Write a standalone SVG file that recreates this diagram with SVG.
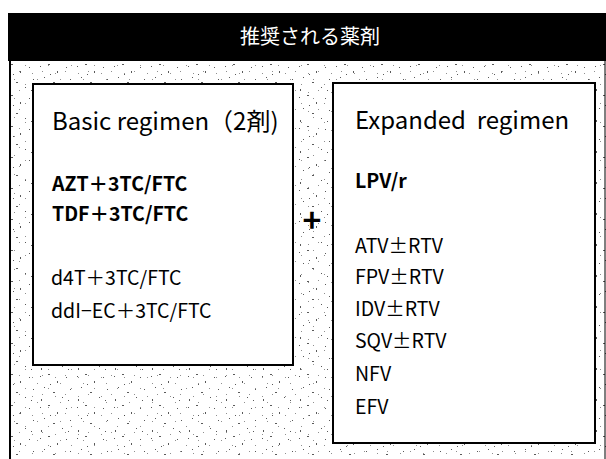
<svg xmlns="http://www.w3.org/2000/svg" width="606" height="459" viewBox="0 0 606 459">
<style>
text{font-family:"Noto Sans CJK JP","Noto Sans",sans-serif;fill:#000}
.h{font-size:24px;white-space:pre}
.r{font-size:19.5px}
.b{font-size:19.5px;font-weight:bold}
.t{font-size:20px;fill:#fff}
.box{fill:#fff;stroke:#000;stroke-width:2}
</style>
<defs>
<pattern id="sp1" width="37" height="31" patternUnits="userSpaceOnUse">
<g fill="#000">
<rect x="3" y="4" width="1" height="1"/><rect x="11" y="2" width="2" height="1"/><rect x="20" y="9" width="1" height="2"/>
<rect x="29" y="5" width="1" height="1"/><rect x="7" y="15" width="1" height="1"/><rect x="16" y="20" width="2" height="1"/>
<rect x="33" y="17" width="1" height="1"/><rect x="25" y="25" width="1" height="1"/><rect x="4" y="27" width="1" height="2"/>
<rect x="13" y="12" width="1" height="1"/><rect x="31" y="28" width="1" height="1"/>
</g>
</pattern>
<pattern id="sp2" width="23" height="19" patternUnits="userSpaceOnUse">
<g fill="#333">
<rect x="2" y="8" width="1" height="1"/><rect x="14" y="3" width="1" height="1"/><rect x="19" y="14" width="1" height="1"/><rect x="9" y="16" width="1" height="1"/>
</g>
</pattern>
</defs>
<g id="header">
<rect x="8" y="13" width="598" height="48" fill="#000"/>
<text class="t" x="310" y="44" text-anchor="middle">推奨される薬剤</text>
</g>
<g id="panel">
<rect x="9" y="61" width="597" height="398" fill="#fff"/>
<rect x="9" y="61" width="597" height="398" fill="url(#sp1)" opacity="0.65"/>
<rect x="9" y="61" width="597" height="398" fill="url(#sp2)" opacity="0.55"/>
<line x1="10" y1="61" x2="10" y2="459" stroke="#000" stroke-width="2"/>
<line x1="605" y1="61" x2="605" y2="459" stroke="#000" stroke-width="1"/>
</g>
<g id="basic">
<rect class="box" x="33" y="84" width="260" height="281"/>
<text class="h" x="52" y="130">Basic regimen（2剤)</text>
<text class="b" x="52" y="191">AZT＋3TC/FTC</text>
<text class="b" x="52" y="221">TDF＋3TC/FTC</text>
<text class="r" x="51" y="285">d4T＋3TC/FTC</text>
<text class="r" x="51" y="318">ddI−EC＋3TC/FTC</text>
</g>
<g id="connectors">
<text x="312" y="232" text-anchor="middle" style="font-size:32px;font-weight:bold">+</text>
</g>
<g id="expanded">
<rect class="box" x="333" y="83" width="262" height="360"/>
<text class="h" x="355" y="129">Expanded  regimen</text>
<text class="b" x="355" y="188">LPV/r</text>
<text class="r" x="355" y="253">ATV±RTV</text>
<text class="r" x="355" y="284">FPV±RTV</text>
<text class="r" x="355" y="316">IDV±RTV</text>
<text class="r" x="355" y="348">SQV±RTV</text>
<text class="r" x="355" y="381">NFV</text>
<text class="r" x="355" y="414">EFV</text>
</g>
</svg>
